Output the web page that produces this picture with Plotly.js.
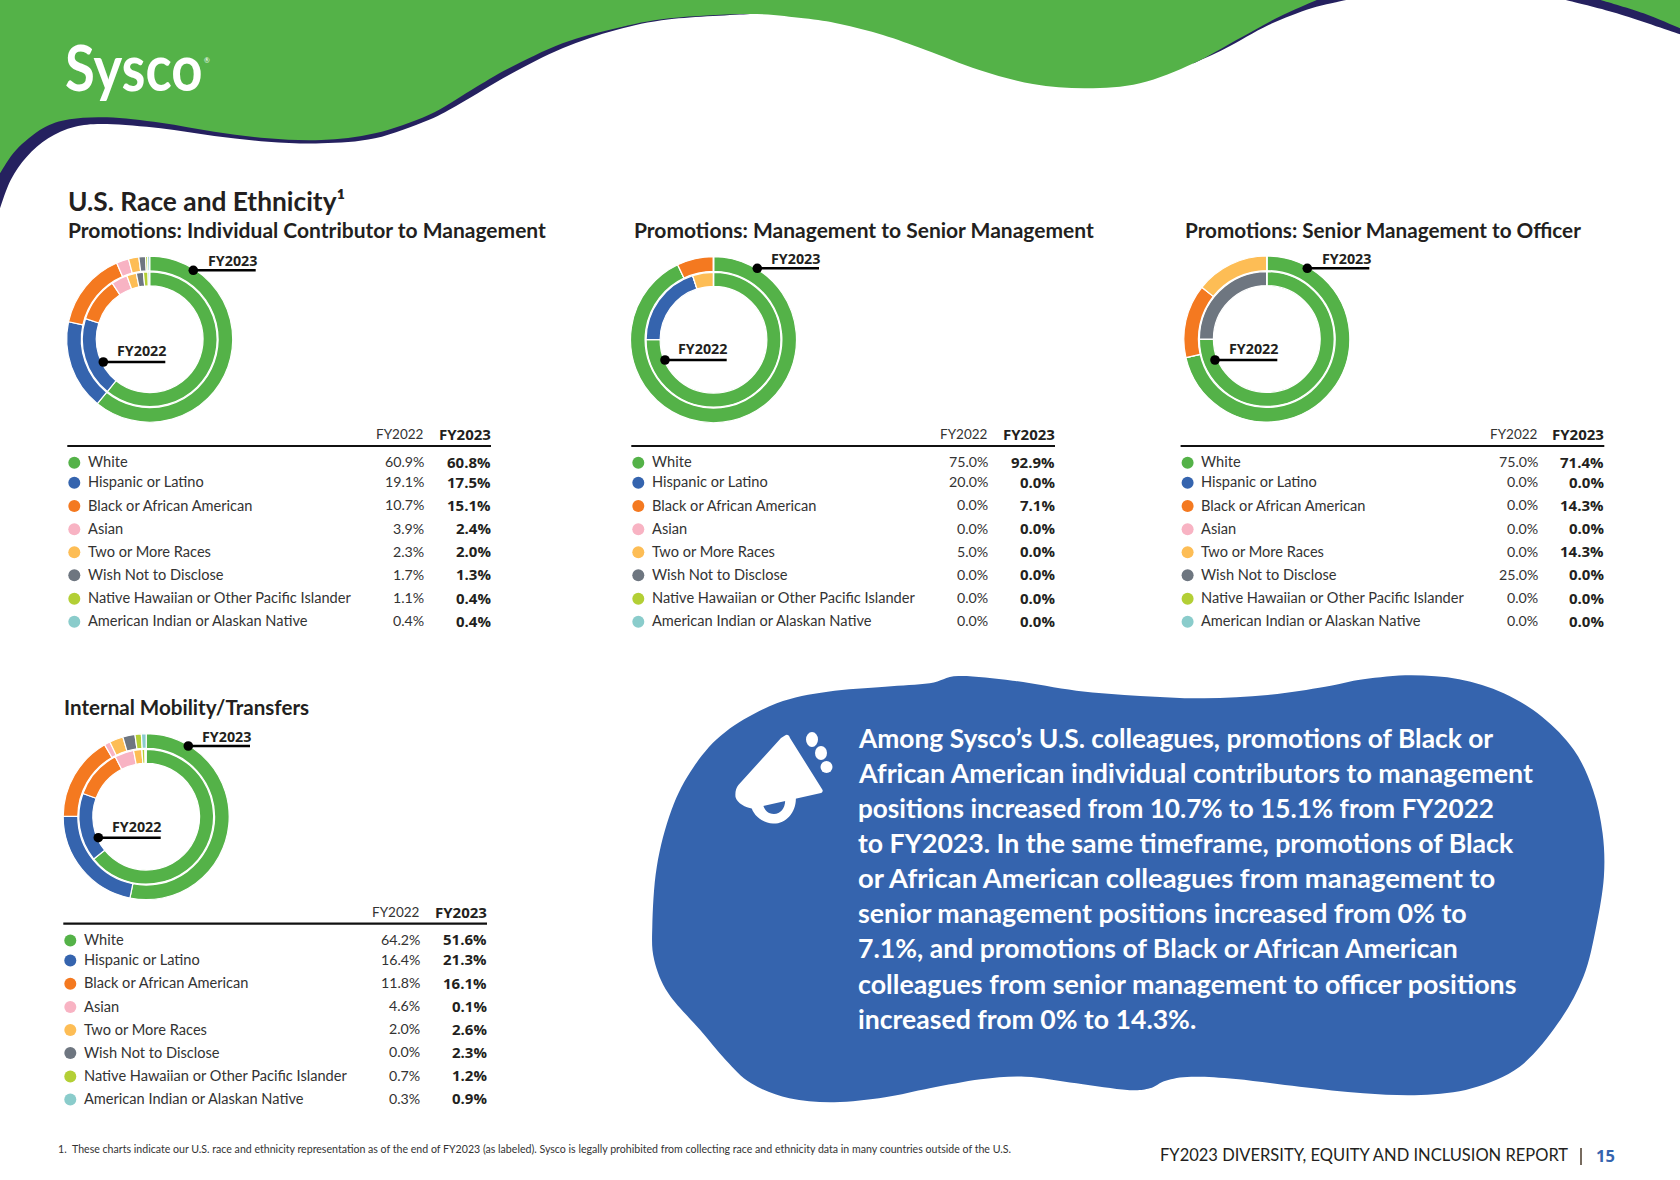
<!DOCTYPE html>
<html><head><meta charset="utf-8">
<script src="https://cdn.plot.ly/plotly-3.0.1.min.js"></script>
<style>html,body{margin:0;padding:0;background:#fff}</style></head>
<body><div id="chart" style="width:1680px;height:1180px"></div>
<script>
const categories=["White","Hispanic or Latino","Black or African American","Asian","Two or More Races","Wish Not to Disclose","Native Hawaiian or Other Pacific Islander","American Indian or Alaskan Native"];
const colors=["#54B248","#3564AE","#F47920","#F8B3C3","#FDBD55","#6E7680","#B3CF35","#8ACCCB"];
const icToMgmt22=[60.9,19.1,10.7,3.9,2.3,1.7,1.1,0.4];
const icToMgmt23=[60.8,17.5,15.1,2.4,2.0,1.3,0.4,0.4];
const mgmtToSenior22=[75.0,20.0,0.0,0.0,5.0,0.0,0.0,0.0];
const mgmtToSenior23=[92.9,0.0,7.1,0.0,0.0,0.0,0.0,0.0];
const seniorToOfficer22=[75.0,0.0,0.0,0.0,0.0,25.0,0.0,0.0];
const seniorToOfficer23=[71.4,0.0,14.3,0.0,14.3,0.0,0.0,0.0];
const transfers22=[64.2,16.4,11.8,4.6,2.0,0.0,0.7,0.3];
const transfers23=[51.6,21.3,16.1,0.1,2.6,2.3,1.2,0.9];
// the ring itself draws the Asian slice at about 1.1% although the table prints 0.1%
const transfers23Ring=[51.6,21.3,16.1,1.1,2.6,2.3,1.2,0.9];
const calloutLines=["Among Sysco\u2019s U.S. colleagues, promotions of Black or","African American individual contributors to management","positions increased from 10.7% to 15.1% from FY2022","to FY2023. In the same timeframe, promotions of Black","or African American colleagues from management to","senior management positions increased from 0% to","7.1%, and promotions of Black or African American","colleagues from senior management to officer positions","increased from 0% to 14.3%."];

const panels=[
 {title:"Promotions: Individual Contributor to Management",ts:21,tx:68,ty:236.7,cx:149.7,cy:339.2,dx:0,dy:0,a:icToMgmt22,b:icToMgmt23,ring:icToMgmt23,
  l23:[193.3,270.3,255.7],l22:[103.3,362,165.3]},
 {title:"Promotions: Management to Senior Management",ts:21,tx:634.5,ty:236.7,cx:713.5,cy:339.7,dx:564,dy:0,a:mgmtToSenior22,b:mgmtToSenior23,ring:mgmtToSenior23,
  l23:[757.3,268.3,819],l22:[665,360,726.7]},
 {title:"Promotions: Senior Management to Officer",ts:20.7,tx:1185,ty:236.7,cx:1266.8,cy:339,dx:1113.3,dy:0,a:seniorToOfficer22,b:seniorToOfficer23,ring:seniorToOfficer23,
  l23:[1307.3,268.3,1369.3],l22:[1215,360,1277.3]},
 {title:"Internal Mobility/Transfers",ts:20.6,tx:64,ty:714,cx:146.2,cy:816.7,dx:-4,dy:477.7,a:transfers22,b:transfers23,ring:transfers23Ring,
  l23:[188.3,746,250],l22:[98.3,837.7,160.7]}
];
const rowY=[462.7,482.7,506,529.3,552.3,575.3,598.7,621.7];
const W=1680,H=1180,INK="#231F20",REG="Lato, 'Open Sans', sans-serif",BOLD="'Open Sans',sans-serif";

function ann(x,base,text,size,opts){opts=opts||{};
 const anchor=opts.anchor||"left";
 return {x:x+(anchor==="left"?-1.5:1.5),y:base-size*0.34,xref:"x",yref:"y",text:text,showarrow:false,
  xanchor:anchor,yanchor:"middle",borderpad:0,
  font:{family:opts.family||REG,size:size,color:opts.color||INK,weight:opts.weight||400}};}
function smooth(pts,closed){
 const n=pts.length;const g=i=>closed?pts[(i+n)%n]:pts[Math.max(0,Math.min(n-1,i))];
 let d="M"+pts[0][0].toFixed(1)+","+pts[0][1].toFixed(1);
 const m=closed?n:n-1;
 for(let i=0;i<m;i++){const p0=g(i-1),p1=g(i),p2=g(i+1),p3=g(i+2);
  d+="C"+(p1[0]+(p2[0]-p0[0])/6).toFixed(1)+","+(p1[1]+(p2[1]-p0[1])/6).toFixed(1)+" "+(p2[0]-(p3[0]-p1[0])/6).toFixed(1)+","+(p2[1]-(p3[1]-p1[1])/6).toFixed(1)+" "+p2[0].toFixed(1)+","+p2[1].toFixed(1);}
 return d+(closed?"Z":"");}
const conv2=p=>[p[0]/1.8667,p[1]/3];
const conv3=p=>[840+p[0]/1.8667,p[1]/3];
const conv4=p=>[630+p[0]/1.568,660+p[1]/3];
const fill=(path,color)=>({type:"path",xref:"x",yref:"y",path:path,fillcolor:color,line:{width:0},layer:"below"});

const greenEdge=[[0,520],[30,450],[80,385],[130,358],[200,352],[300,368],[400,395],[500,415],[600,420],[700,400],[800,345],[880,270],[950,205],[1050,130],[1150,85],[1250,55],[1400,42],[1500,55],[1568,72]].map(conv2)
 .concat([[80,105],[160,150],[260,210],[360,252],[460,265],[560,250],[660,190],[740,120],[820,50],[890,0]].map(conv3));
const navyA=[[0,625],[20,540],[50,470],[90,415],[140,380],[200,372],[300,385],[400,408],[500,425],[600,430],[700,415],[800,360],[860,310],[950,225],[1050,145],[1150,90],[1250,58],[1400,42]].map(conv2);
const navyB=[[660,190],[720,145],[800,75],[880,25],[945,0]].map(conv3);
const navyC=[[1355,0],[1450,40],[1568,103]].map(conv3);
const greenC=[[1420,0],[1500,40],[1568,85]].map(conv3);
const blob=[[515,48],[600,62],[700,92],[800,108],[900,115],[1000,105],[1090,80],[1150,58],[1225,46],[1300,58],[1370,100],[1430,170],[1480,270],[1510,390],[1525,520],[1527,650],[1515,800],[1495,950],[1455,1090],[1395,1220],[1320,1285],[1240,1305],[1150,1300],[1050,1280],[950,1257],[880,1250],[840,1262],[815,1285],[780,1290],[700,1270],[620,1250],[550,1258],[470,1285],[400,1312],[320,1327],[250,1315],[190,1270],[150,1200],[110,1110],[60,1000],[38,900],[35,800],[42,620],[65,450],[100,320],[150,215],[230,130],[310,95],[400,80],[470,70]].map(conv4);

const shapes=[
 fill(smooth(navyA)+"L750,0L0,0Z","#25215F"),
 fill(smooth(navyB)+"L1300,0L1180,60Z","#25215F"),
 fill(smooth(navyC)+"L1680,0Z","#25215F"),
 fill(smooth(greenEdge)+"L0,0Z","#54B248"),
 fill(smooth(greenC)+"L1680,0Z","#54B248"),
 fill(smooth(blob,true),"#3564AE"),
 fill("M795.8,796C797,812 786,824 773,823.5C762,823 753,815 751,806L763,804C764,810 768,814 774,814C781,814 786,807 785,799Z","#FFFFFF"),
 fill("M785,735.5C787,734 789,735 790,738L822.6,790C823,791.5 822,792.5 821,793L752,808.5C746,808 737,803 735.5,797C735,792 736,788 738.4,785L781,738Z","#FFFFFF"),
 {type:"circle",xref:"x",yref:"y",x0:806,x1:818,y0:732,y1:747,fillcolor:"#FFFFFF",line:{width:0},layer:"below"},
 {type:"circle",xref:"x",yref:"y",x0:815,x1:827,y0:746,y1:760,fillcolor:"#FFFFFF",line:{width:0},layer:"below"},
 {type:"circle",xref:"x",yref:"y",x0:820.5,x1:832.5,y0:761,y1:773,fillcolor:"#FFFFFF",line:{width:0},layer:"below"}
];

const traces=[];const annotations=[];
function donut(values,cx,cy,Rout,Rin,name){
 const r=Rout+0.6,h=(Rin-0.6)/r;
 traces.push({type:"pie",name:name,labels:categories,values:values,sort:false,direction:"clockwise",rotation:0,hole:h,
  marker:{colors:colors,line:{color:"#FFFFFF",width:1.2}},textinfo:"none",hoverinfo:"label+percent",showlegend:false,
  domain:{x:[(cx-r)/W,(cx+r)/W],y:[1-(cy+r)/H,1-(cy-r)/H]}});
}
const pct=v=>v.toFixed(1)+"%";
panels.forEach(p=>{
 donut(p.ring,p.cx,p.cy,82.4,69,"FY2023");
 donut(p.a,p.cx,p.cy,66.8,54,"FY2022");
 annotations.push(ann(p.tx,p.ty,p.title,p.ts,{weight:700}));
 [[p.l23,"FY2023",4.8,0.8],[p.l22,"FY2022",6.8,-0.2]].forEach(([l,t,up,nudge])=>{
  shapes.push({type:"line",xref:"x",yref:"y",x0:l[0],x1:l[2],y0:l[1],y1:l[1],line:{color:"#000",width:2.5},layer:"above"});
  shapes.push({type:"circle",xref:"x",yref:"y",x0:l[0]-4.8,x1:l[0]+4.8,y0:l[1]-4.8,y1:l[1]+4.8,fillcolor:"#000",line:{width:0},layer:"above"});
  annotations.push(ann(l[2]+nudge,l[1]-up,t,14.3,{anchor:"right",weight:700,family:BOLD}));
 });
 shapes.push({type:"line",xref:"x",yref:"y",x0:67.3+p.dx,x1:491+p.dx,y0:446+p.dy,y1:446+p.dy,line:{color:"#111",width:2.2},layer:"below"});
 annotations.push(ann(423.7+p.dx,439+p.dy,"FY2022",13.5,{anchor:"right",color:"#333"}));
 annotations.push(ann(490.3+p.dx,439+p.dy,"FY2023",15,{anchor:"right",weight:700,family:BOLD}));
 traces.push({type:"scatter",mode:"markers",x:categories.map(()=>74.3+p.dx),y:rowY.map(y=>y+p.dy),text:categories,hoverinfo:"text",
  marker:{color:colors,size:12,line:{width:0}},showlegend:false});
 categories.forEach((c,i)=>{
  const base=rowY[i]+p.dy+4;
  annotations.push(ann(88.3+p.dx,base,c,14.6,{color:"#333"}));
  annotations.push(ann(423.7+p.dx,base-0.4,pct(p.a[i]),14.2,{anchor:"right",color:"#333"}));
  annotations.push(ann(490.3+p.dx,base,pct(p.b[i]),15,{anchor:"right",weight:700,family:BOLD}));
 });
});
annotations.push(ann(68,209.7,"U.S. Race and Ethnicity\u00B9",26.3,{weight:700}));
const bodyBase=[747.3,782.3,817.3,852.3,887.3,922.3,957.3,992.7,1027.7];
const bodySizes=[26.35,26.8,26.15,26.65,27.4,26.8,26.6,26.8,26.6];
calloutLines.forEach((t,i)=>annotations.push(ann(858.3,bodyBase[i],t,bodySizes[i],{color:"#FFFFFF",weight:700})));
annotations.push(ann(65,88,"Sysco",64,{color:"#FFFFFF",weight:700}));
annotations.push(ann(204,62,"\u00AE",7,{color:"#FFFFFF"}));
annotations.push(ann(58,1153,"1.",10.6,{color:"#333"}));
annotations.push(ann(72,1153,"These charts indicate our U.S. race and ethnicity representation as of the end of FY2023 (as labeled). Sysco is legally prohibited from collecting race and ethnicity data in many countries outside of the U.S.",10.6,{color:"#333"}));
annotations.push(ann(1160.7,1160.7,"FY2023 DIVERSITY, EQUITY AND INCLUSION REPORT",16.5,{}));
annotations.push(ann(1596,1160.7,"15",16.5,{color:"#3564AE",weight:700,family:BOLD}));
shapes.push({type:"line",xref:"x",yref:"y",x0:1581,x1:1581,y0:1148,y1:1165,line:{color:"#4A3A2A",width:1.5},layer:"below"});

Plotly.newPlot("chart",traces,{width:W,height:H,margin:{l:0,r:0,t:0,b:0},paper_bgcolor:"#fff",plot_bgcolor:"#fff",showlegend:false,
 xaxis:{range:[0,W],visible:false,fixedrange:true},yaxis:{range:[H,0],visible:false,fixedrange:true},
 shapes:shapes,annotations:annotations},{displayModeBar:false,staticPlot:true}).then(gd=>{
  // the wordmark is narrower than Lato: squeeze it horizontally, keep it as real text
  gd.querySelectorAll(".annotation-text").forEach(t=>{
   if(t.textContent==="Sysco"){t.style.transformBox="fill-box";t.style.transformOrigin="left center";t.style.transform="scaleX(0.85)";}
  });
 });
</script></body></html>
